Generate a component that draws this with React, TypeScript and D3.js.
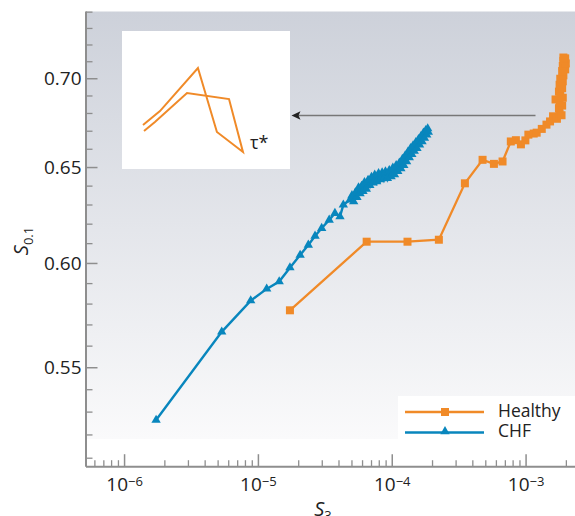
import React from "react";
import * as d3 from "d3";

// Healthy subjects: S3 (x) and S0.1 (y)
const healthyS3 = [
  1.72e-5, 6.44e-5, 1.3e-4, 2.23e-4, 3.49e-4, 4.73e-4, 5.75e-4, 6.67e-4, 7.69e-4,
  8.39e-4, 9.15e-4, 9.88e-4, 1.04e-3, 1.14e-3, 1.2e-3, 1.31e-3, 1.42e-3, 1.51e-3,
  1.59e-3, 1.7e-3, 1.78e-3, 1.84e-3, 1.76e-3, 1.86e-3, 1.78e-3, 1.66e-3, 1.8e-3,
  1.88e-3, 1.76e-3, 1.86e-3, 1.78e-3, 1.88e-3, 1.8e-3, 1.9e-3, 1.86e-3, 1.96e-3,
  1.88e-3, 1.98e-3, 1.9e-3, 1.96e-3, 1.9e-3,
];
const healthyS01 = [
  0.577, 0.611, 0.611, 0.612, 0.6415, 0.6542, 0.652, 0.6533, 0.6643,
  0.665, 0.6627, 0.6649, 0.6681, 0.6687, 0.6692, 0.6713, 0.6737, 0.6755,
  0.6784, 0.677, 0.68, 0.679, 0.683, 0.6845, 0.6865, 0.688, 0.69,
  0.689, 0.6925, 0.6945, 0.6965, 0.6985, 0.7, 0.702, 0.7045, 0.7055,
  0.7075, 0.709, 0.7105, 0.712, 0.7125,
];

// Congestive heart failure patients: S3 (x) and S0.1 (y)
const chfS3 = [
  1.72e-6, 5.32e-6, 8.76e-6, 1.153e-5, 1.43e-5, 1.72e-5, 2.05e-5, 2.36e-5, 2.65e-5,
  2.97e-5, 3.38e-5, 3.73e-5, 4.07e-5, 4.31e-5, 4.83e-5,
  5.0e-5, 5.15e-5, 5.3e-5, 5.45e-5, 5.6e-5, 5.75e-5, 5.9e-5, 6.05e-5, 6.2e-5,
  6.4e-5, 6.6e-5, 6.8e-5, 7.0e-5, 7.2e-5, 7.4e-5, 7.65e-5, 7.9e-5, 8.15e-5,
  8.4e-5, 8.65e-5, 8.9e-5, 9.2e-5, 9.5e-5, 9.8e-5, 1.01e-4, 1.04e-4, 1.07e-4,
  1.1e-4, 1.13e-4, 1.16e-4, 1.19e-4, 1.22e-4, 1.25e-4, 1.28e-4, 1.31e-4, 1.34e-4,
  1.37e-4, 1.4e-4, 1.43e-4, 1.46e-4, 1.5e-4, 1.53e-4, 1.57e-4, 1.6e-4, 1.64e-4,
  1.67e-4, 1.71e-4, 1.74e-4, 1.78e-4, 1.81e-4, 1.84e-4, 1.86e-4,
];
const chfS01 = [
  0.5265, 0.5667, 0.5817, 0.5874, 0.591, 0.5979, 0.6042, 0.6093, 0.6139,
  0.6179, 0.6222, 0.6257, 0.6239, 0.6301, 0.6327,
  0.635, 0.6318, 0.6365, 0.634, 0.6392, 0.636, 0.64, 0.6372, 0.642,
  0.6385, 0.6432, 0.6405, 0.6448, 0.6418, 0.646, 0.6425, 0.6468, 0.6435,
  0.6472, 0.644, 0.6478, 0.6442, 0.6485, 0.6452, 0.6498, 0.6462, 0.6512,
  0.648, 0.6525, 0.6495, 0.6545, 0.6512, 0.6565, 0.6532, 0.6585, 0.6555,
  0.6605, 0.6572, 0.662, 0.659, 0.6638, 0.6605, 0.6655, 0.6625, 0.6672,
  0.6642, 0.669, 0.6662, 0.6705, 0.668, 0.6715, 0.6695,
];

// Magnified sketch of the healthy trajectory near its turning point (normalised box units)
const insetU = [0.125, 0.226, 0.452, 0.565, 0.72, 0.637, 0.387, 0.196, 0.131];
const insetV = [0.681, 0.58, 0.268, 0.732, 0.877, 0.493, 0.449, 0.659, 0.725];

const xMajorTicks = [1e-6, 1e-5, 1e-4, 1e-3];
const xTickExponents = ["−6", "−5", "−4", "−3"];
const yMajorTicks = [0.55, 0.6, 0.65, 0.7];
const yTickLabels = ["0.55", "0.60", "0.65", "0.70"];
const seriesNames = ["Healthy", "CHF"];

const W = 575;
const H = 516;
const ORANGE = "#F08A28";
const BLUE = "#0886BD";
const AXIS = "#8e8e8e";
const FONT = "'Open Sans', sans-serif";

const plotLeft = 86;
const plotRight = 575;
const plotTop = 11.5;
const axisY = 466.7;
const shadeBottom = 439;

const x = d3.scaleLog().domain([5.15e-7, 2.32e-3]).range([plotLeft, plotRight]);
const y = d3.scaleLog().domain([0.5064, 0.7404]).range([axisY, plotTop]);

const xMinor: number[] = [];
for (let e = -7; e <= -3; e++) {
  for (let k = 2; k <= 9; k++) {
    const v = k * Math.pow(10, e);
    if (x(v) >= plotLeft && x(v) <= plotRight) xMinor.push(v);
  }
}
const yMinor: number[] = [];
for (let i = 51; i <= 74; i++) {
  if (i % 5 !== 0) yMinor.push(i / 100);
}

const line = d3
  .line<[number, number]>()
  .x((d) => x(d[0]))
  .y((d) => y(d[1]));

const healthy: [number, number][] = healthyS3.map((v, i) => [v, healthyS01[i]]);
const chf: [number, number][] = chfS3.map((v, i) => [v, chfS01[i]]);

const triangle = d3.symbol(d3.symbolTriangle, 38)()!;

// Inset box
const inset = { x0: 122, y0: 31, x1: 290, y1: 169 };
const iu = d3.scaleLinear().domain([0, 1]).range([inset.x0, inset.x1]);
const iv = d3.scaleLinear().domain([0, 1]).range([inset.y0, inset.y1]);
const insetPath = d3
  .line<number>()
  .x((_, i) => iu(insetU[i]))
  .y((_, i) => iv(insetV[i]))(insetU);

export default function App() {
  return (
    <svg
      width={W}
      height={H}
      style={{ position: "absolute", left: 0, top: 0, background: "#fff" }}
      fontFamily={FONT}
    >
      <defs>
        <linearGradient id="bg" x1="0" y1="0" x2="0" y2="1">
          <stop offset="0" stopColor="#cdd1da" />
          <stop offset="1" stopColor="#fafafb" />
        </linearGradient>
      </defs>
      <rect
        x={plotLeft}
        y={plotTop}
        width={plotRight - plotLeft}
        height={shadeBottom - plotTop}
        fill="url(#bg)"
      />

      {/* inset */}
      <rect
        x={inset.x0}
        y={inset.y0}
        width={inset.x1 - inset.x0}
        height={inset.y1 - inset.y0}
        fill="#fff"
      />
      <path d={insetPath ?? ""} fill="none" stroke={ORANGE} strokeWidth={2} strokeLinejoin="miter" />
      <text x={250} y={148.5} fontSize={18} fill="#222">
        τ*
      </text>

      {/* arrow pointing to the inset */}
      <line x1={535.5} y1={115.5} x2={298} y2={115.5} stroke="#777" strokeWidth={1.6} />
      <path d="M291.5,115.5 L300.5,111.3 L298.5,115.5 L300.5,119.7 Z" fill="#222" />

      {/* axes */}
      <line x1={plotLeft} y1={plotTop} x2={plotLeft} y2={axisY} stroke={AXIS} strokeWidth={2} />
      <line x1={plotLeft} y1={axisY} x2={plotRight} y2={axisY} stroke={AXIS} strokeWidth={2} />
      {yMinor.map((v) => (
        <line key={"ym" + v} x1={plotLeft} x2={plotLeft + 6.5} y1={y(v)} y2={y(v)} stroke={AXIS} strokeWidth={1.3} />
      ))}
      {yMajorTicks.map((v, i) => (
        <g key={"yM" + v}>
          <line x1={plotLeft} x2={plotLeft + 11.5} y1={y(v)} y2={y(v)} stroke={AXIS} strokeWidth={1.5} />
          <text x={81.5} y={y(v) + 6.7} fontSize={19} textAnchor="end" fill="#222">
            {yTickLabels[i]}
          </text>
        </g>
      ))}
      {xMinor.map((v) => (
        <line key={"xm" + v} x1={x(v)} x2={x(v)} y1={axisY} y2={axisY - 6.5} stroke={AXIS} strokeWidth={1.3} />
      ))}
      {xMajorTicks.map((v, i) => (
        <g key={"xM" + v}>
          <line x1={x(v)} x2={x(v)} y1={axisY} y2={axisY - 12.5} stroke={AXIS} strokeWidth={1.5} />
          <text x={x(v)} y={490.5} fontSize={19} textAnchor="middle" fill="#222">
            10
            <tspan fontSize={13} dy={-4.8}>
              {xTickExponents[i]}
            </tspan>
          </text>
        </g>
      ))}

      {/* axis titles */}
      <text x={323} y={516} fontSize={20} textAnchor="middle" fill="#222">
        <tspan fontStyle="italic">S</tspan>
        <tspan fontSize={13} dy={4}>
          3
        </tspan>
      </text>
      <text transform="translate(27.5,241) rotate(-90)" fontSize={20} textAnchor="middle" fill="#222">
        <tspan fontStyle="italic">S</tspan>
        <tspan fontSize={13} dy={5}>
          0.1
        </tspan>
      </text>

      {/* Healthy series */}
      <path d={line(healthy) ?? ""} fill="none" stroke={ORANGE} strokeWidth={2.3} />
      {healthy.map((d, i) => (
        <rect key={"h" + i} x={x(d[0]) - 4} y={y(d[1]) - 4} width={8} height={8} fill={ORANGE} />
      ))}

      {/* CHF series */}
      <path d={line(chf) ?? ""} fill="none" stroke={BLUE} strokeWidth={2.4} />
      {chf.map((d, i) => (
        <path key={"c" + i} d={triangle} transform={`translate(${x(d[0])},${y(d[1])})`} fill={BLUE} />
      ))}

      {/* legend */}
      <rect x={398} y={396} width={177} height={43} fill="#fff" />
      {seriesNames.map((name, i) => {
        const ly = i === 0 ? 412 : 432.5;
        const color = i === 0 ? ORANGE : BLUE;
        return (
          <g key={name}>
            <line x1={405} x2={484} y1={ly} y2={ly} stroke={color} strokeWidth={2.3} />
            {i === 0 ? (
              <rect x={441} y={ly - 4} width={8} height={8} fill={color} />
            ) : (
              <path d={triangle} transform={`translate(445,${ly - 1})`} fill={color} />
            )}
            <text x={498} y={i === 0 ? 416.7 : 437.3} fontSize={17.5} fill="#222">
              {name}
            </text>
          </g>
        );
      })}
    </svg>
  );
}
